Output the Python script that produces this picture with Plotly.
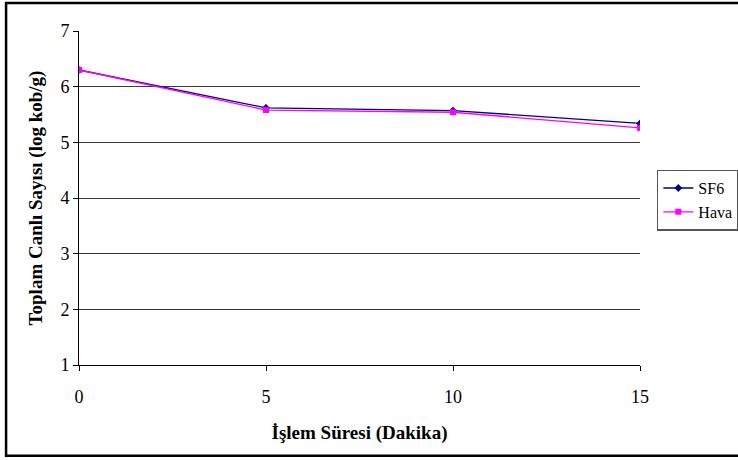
import plotly.graph_objects as go

# Treatment time (minutes) and total viable counts (log cfu/g)
sure = [0, 5, 10, 15]
sf6 = [6.30, 5.62, 5.57, 5.34]
hava = [6.30, 5.58, 5.54, 5.26]

y_ticks = [1, 2, 3, 4, 5, 6, 7]
x_ticks = [0, 5, 10, 15]

serif = "Liberation Serif"

fig = go.Figure()
fig.add_trace(go.Scatter(
    x=sure, y=sf6, name="SF6", mode="lines+markers",
    line=dict(color="#000080", width=1.3),
    marker=dict(symbol="diamond", size=6, color="#000080"),
))
fig.add_trace(go.Scatter(
    x=sure, y=hava, name="Hava", mode="lines+markers",
    line=dict(color="#FF00FF", width=1.3),
    marker=dict(symbol="square", size=6, color="#FF00FF"),
))

fig.update_layout(
    width=738, height=460,
    margin=dict(l=79, r=98, t=31, b=95, autoexpand=False),
    paper_bgcolor="white", plot_bgcolor="white",
    font=dict(family=serif, size=18, color="black"),
    showlegend=True,
    legend=dict(
        x=1.03, y=0.585, xanchor="left", yanchor="top",
        bordercolor="#555555", borderwidth=1.5,
        font=dict(family=serif, size=16),
        tracegroupgap=0, itemwidth=30,
    ),
    xaxis=dict(
        range=[0, 15], tickvals=x_ticks, ticks="outside", ticklen=5,
        tickcolor="black", showline=True, linecolor="black", linewidth=1,
        showgrid=False, zeroline=False, ticklabelstandoff=10,
        tickfont=dict(family=serif, size=18),
        title=dict(text="<b>İşlem Süresi (Dakika)</b>", standoff=20,
                   font=dict(family=serif, size=19)),
    ),
    yaxis=dict(
        range=[1, 7], tickvals=y_ticks, ticks="outside", ticklen=5,
        tickcolor="black", showline=True, linecolor="black", linewidth=1,
        showgrid=True, gridcolor="#3a3a3a", gridwidth=1, zeroline=False,
        tickfont=dict(family=serif, size=18),
        title=dict(text="<b>Toplam Canlı Sayısı (log kob/g)</b>", standoff=12,
                   font=dict(family=serif, size=19)),
    ),
)

# Outer chart frame
fig.add_shape(type="rect", xref="paper", yref="paper",
              x0=-0.130, x1=1.18, y0=-0.272, y1=1.084,
              line=dict(color="black", width=2.5), fillcolor="rgba(0,0,0,0)",
              layer="above")

fig.write_html("out.html")
